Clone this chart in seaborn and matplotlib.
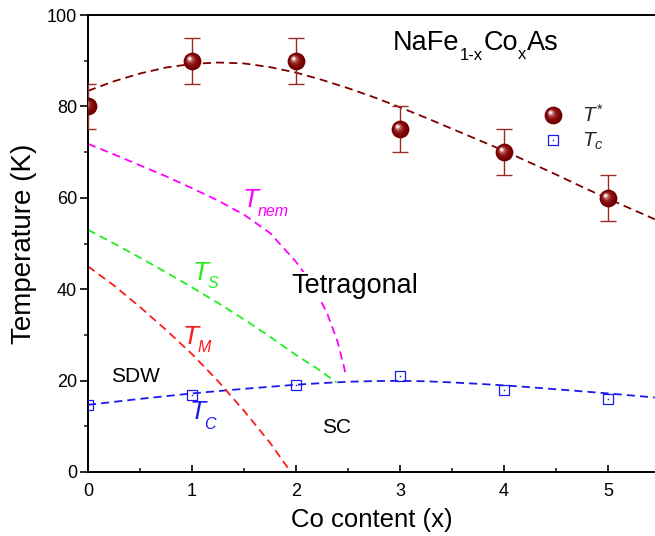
import numpy as np
import matplotlib
matplotlib.use("Agg")
import matplotlib.pyplot as plt
import seaborn as sns
from matplotlib.path import Path
from matplotlib.lines import Line2D
from matplotlib.legend_handler import HandlerTuple
from matplotlib.ticker import MultipleLocator

# ---------------- data ----------------
co_x = [0, 1, 2, 3, 4, 5]
t_star = [80, 90, 90, 75, 70, 60]
t_star_err = [5, 5, 5, 5, 5, 5]
t_c = [14.7, 16.9, 19.0, 20.9, 18.0, 16.0]

# guide-to-the-eye curves
tstar_fit_x = [0, 0.25, 0.5, 0.75, 1.0, 1.25, 1.5, 1.75, 2.0, 2.25, 2.5, 2.75,
               3.0, 3.25, 3.5, 3.75, 4.0, 4.25, 4.5, 4.75, 5.0, 5.25, 5.45]
tstar_fit_y = [83.4, 85.5, 87.2, 88.5, 89.3, 89.6, 89.4, 88.6, 87.4, 85.8, 84.0, 82.0,
               79.8, 77.5, 75.1, 72.7, 70.3, 67.7, 65.1, 62.4, 59.8, 57.3, 55.3]

tc_fit_x = [0, 0.25, 0.5, 0.75, 1.0, 1.25, 1.5, 1.75, 2.0, 2.25, 2.5, 2.75,
            3.0, 3.25, 3.5, 3.75, 4.0, 4.25, 4.5, 4.75, 5.0, 5.25, 5.45]
tc_fit_y = [14.7, 15.35, 16.0, 16.6, 17.2, 17.7, 18.2, 18.65, 19.1, 19.45, 19.75, 19.9,
            19.95, 19.85, 19.6, 19.3, 18.95, 18.55, 18.1, 17.65, 17.2, 16.7, 16.3]

tnem_x = [0, 0.25, 0.5, 0.75, 1.0, 1.25, 1.5, 1.75, 2.0, 2.1, 2.2, 2.3, 2.4, 2.48]
tnem_y = [71.8, 69.5, 67.1, 64.7, 62.1, 59.4, 56.3, 52.3, 46.0, 42.9, 39.2, 34.7, 28.5, 21.3]

ts_x = [0, 0.25, 0.5, 0.75, 1.0, 1.25, 1.5, 1.75, 2.0, 2.2, 2.39]
ts_y = [53.0, 50.0, 46.9, 43.7, 40.4, 37.0, 33.4, 29.6, 25.6, 22.7, 19.6]

tm_x = [0, 0.25, 0.5, 0.75, 1.0, 1.25, 1.5, 1.75, 1.95]
tm_y = [45.0, 40.8, 36.1, 31.1, 25.8, 19.9, 13.4, 6.4, 0.0]

# ---------------- style ----------------
sns.set_theme(style="ticks")
plt.rcParams["font.family"] = ["Liberation Sans", "DejaVu Sans"]
plt.rcParams["mathtext.fontset"] = "custom"
plt.rcParams["mathtext.rm"] = "Liberation Sans"
plt.rcParams["mathtext.it"] = "Liberation Sans:italic"
plt.rcParams["mathtext.bf"] = "Liberation Sans:bold"
plt.rcParams["axes.linewidth"] = 1.4

fig = plt.figure(figsize=(6.55, 5.36), dpi=100)
fig.patch.set_facecolor("white")
ax = fig.add_axes([88 / 655, 64 / 536, 567 / 655, 457 / 536])
ax.set_facecolor("white")

DASH = (0, (4.5, 2.8))
LW = 1.3
C_STAR = "#7a0000"
C_BLUE = "#1a1aee"
C_MAG = "#ff00ff"
C_GRN = "#22ee22"
C_RED = "#ff1a1a"

def dline(x, y, color):
    sns.lineplot(x=x, y=y, ax=ax, color=color, linewidth=LW, linestyle=DASH,
                 sort=False, estimator=None, zorder=2)

dline(tstar_fit_x, tstar_fit_y, C_STAR)
dline(tc_fit_x, tc_fit_y, C_BLUE)
dline(tnem_x, tnem_y, C_MAG)
dline(ts_x, ts_y, C_GRN)
dline(tm_x, tm_y, C_RED)

# error bars
ax.errorbar(co_x, t_star, yerr=t_star_err, fmt="none", ecolor="#9b2a2a",
            elinewidth=1.0, capsize=5.8, capthick=1.0, zorder=3)

# sphere-like markers built from offset circles
def circ_marker(r, dx, dy):
    c = Path.unit_circle()
    verts = np.vstack([[[1.0, 1.0]], [[-1.0, -1.0]], c.vertices * r + [dx, dy]])
    codes = [Path.MOVETO, Path.MOVETO] + list(c.codes)
    return Path(verts, codes)

sphere_layers = [
    (1.00, 0.00, 0.00, "#700000"),
    (0.80, -0.08, 0.08, "#800808"),
    (0.58, -0.16, 0.16, "#952020"),
    (0.40, -0.24, 0.24, "#b85a5a"),
    (0.24, -0.30, 0.30, "#e2b4b4"),
    (0.12, -0.33, 0.33, "#ffffff"),
]
MS = 12.8
sphere_handles = []
for r, dx, dy, col in sphere_layers:
    mk = circ_marker(r, dx, dy)
    ax.plot(co_x, t_star, linestyle="none", marker=mk, markersize=MS,
            markerfacecolor=col, markeredgewidth=0, zorder=4)
    sphere_handles.append(Line2D([], [], linestyle="none", marker=mk, markersize=MS,
                                 markerfacecolor=col, markeredgewidth=0))

ax.plot(co_x, t_c, linestyle="none", marker="s", markersize=6.5,
        markerfacecolor="none", markeredgecolor=C_BLUE, markeredgewidth=0.9, zorder=4)
ax.plot(co_x, t_c, linestyle="none", marker="s", markersize=1.0,
        markerfacecolor=C_BLUE, markeredgewidth=0, zorder=5)
sq_handles = (
    Line2D([], [], linestyle="none", marker="s", markersize=6.5, markerfacecolor="none",
           markeredgecolor=C_BLUE, markeredgewidth=0.9),
    Line2D([], [], linestyle="none", marker="s", markersize=1.0,
           markerfacecolor=C_BLUE, markeredgewidth=0),
)

# axes
ax.set_xlim(0, 5.452)
ax.set_ylim(0, 100)
ax.xaxis.set_major_locator(MultipleLocator(1))
ax.xaxis.set_minor_locator(MultipleLocator(0.5))
ax.yaxis.set_major_locator(MultipleLocator(20))
ax.yaxis.set_minor_locator(MultipleLocator(10))
ax.tick_params(axis="x", which="major", direction="in", length=5, width=1.2,
               labelsize=13, pad=8, colors="black")
ax.tick_params(axis="x", which="minor", direction="in", length=3, width=1.2)
ax.tick_params(axis="y", which="major", direction="out", length=6, width=1.2,
               labelsize=13, pad=2, colors="black")
ax.tick_params(axis="y", which="minor", direction="out", length=3, width=1.2)
ax.spines["right"].set_visible(False)
for s in ("left", "bottom", "top"):
    ax.spines[s].set_color("black")
    ax.spines[s].set_linewidth(1.4)

ax.set_xlabel("Co content (x)", fontsize=18.5, color="black", labelpad=6)
ax.set_ylabel("Temperature (K)", fontsize=20, color="black", labelpad=7)

# ---- rich text (main text + lowered subscripts) ----
DESC = 0.21  # descent fraction used by matplotlib text boxes (Liberation Sans)

def rich(x, y, parts, color, style="normal", zorder=3):
    """parts: list of (text, size_pt, drop_pt, dx_pt)."""
    txt, size, drop, _ = parts[0]
    t = ax.text(x, y, txt, fontsize=size, color=color, style=style,
                va="baseline", zorder=zorder)
    prev_size, prev_drop = size, drop
    for txt, size, drop, dxp in parts[1:]:
        dy = DESC * prev_size - (drop - prev_drop)
        t = ax.annotate(txt, xy=(1, 0), xycoords=t, xytext=(dxp, dy),
                        textcoords="offset points", fontsize=size, color=color,
                        style=style, va="baseline", ha="left", zorder=zorder)
        prev_size, prev_drop = size, drop
    return t

rich(2.93, 92.3, [("NaFe", 19.5, 0, 0), ("1-x", 12, 6.5, 0.3),
                  ("Co", 19.5, 0, 0.3), ("x", 12, 6.5, 0.3), ("As", 19.5, 0, 0.3)],
     "black")

ax.text(1.96, 39.2, "Tetragonal", fontsize=19.5, color="black", zorder=3,
        bbox=dict(facecolor="white", edgecolor="none", pad=1.0))
ax.text(0.22, 19.6, "SDW", fontsize=15, color="black")
ax.text(2.25, 8.6, "SC", fontsize=15, color="black")

rich(1.49, 58.0, [("T", 19, 0, 0), ("nem", 11.5, 6.8, -1.2)], C_MAG, style="italic")
rich(1.01, 42.1, [("T", 19, 0, 0), ("S", 11.5, 6.6, -1.2)], C_GRN, style="italic")
rich(0.91, 28.1, [("T", 19, 0, 0), ("M", 11.5, 6.6, -1.2)], C_RED, style="italic")
rich(0.98, 11.5, [("T", 19, 0, 0), ("C", 11.5, 7.0, -1.2)], C_BLUE, style="italic")

leg = ax.legend(handles=[tuple(sphere_handles), sq_handles],
                labels=[r"$T^{*}$", r"$T_{c}$"],
                handler_map={tuple: HandlerTuple(ndivide=1)},
                loc="upper left", bbox_to_anchor=(0.783, 0.828),
                frameon=False, fontsize=15, handlelength=1.0, handletextpad=0.9,
                labelspacing=0.25, borderpad=0)

fig.savefig("out.png", dpi=100, facecolor="white")
